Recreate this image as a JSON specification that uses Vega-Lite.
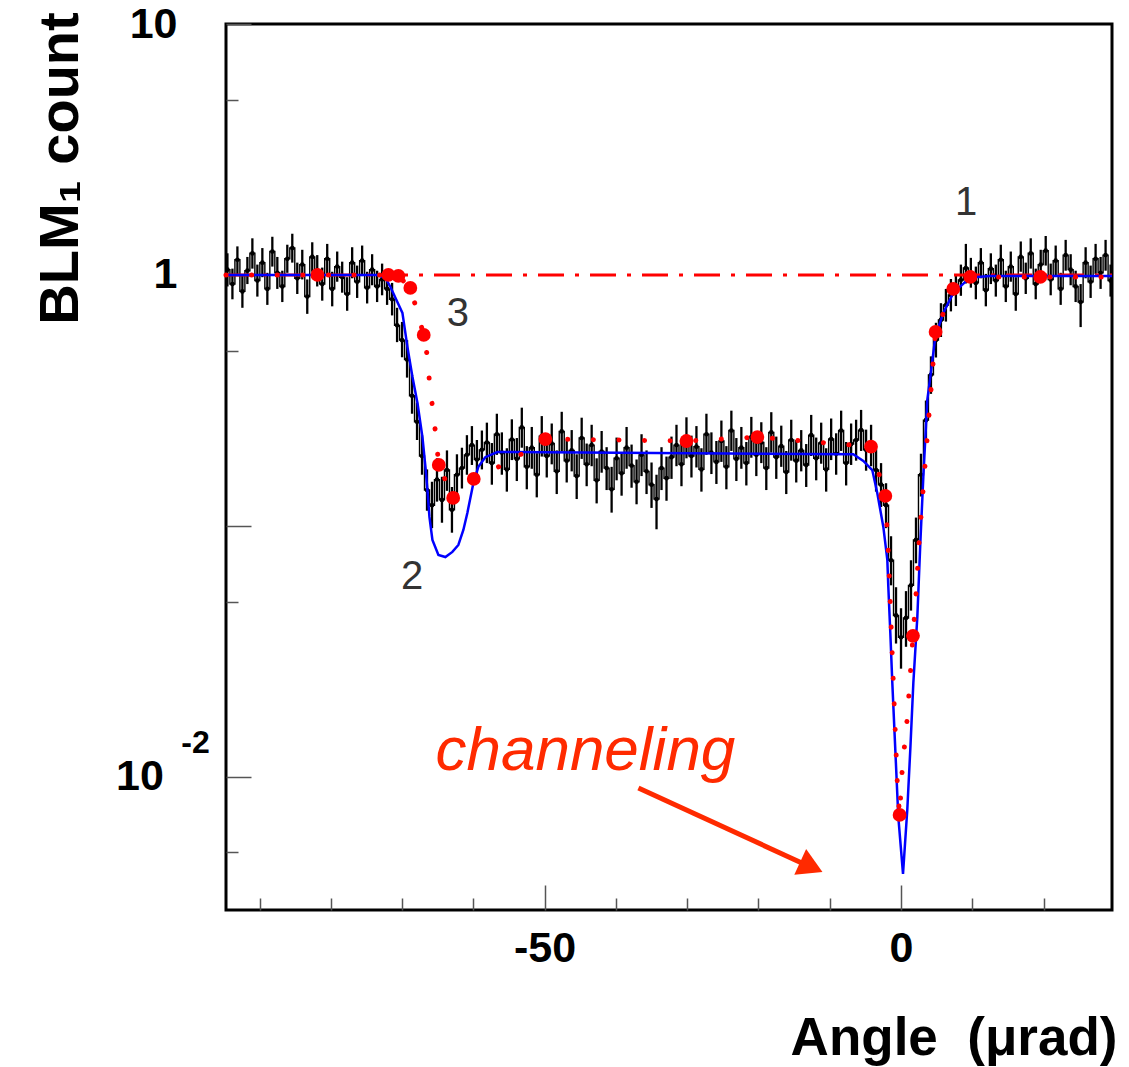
{
  "$schema": "https://vega.github.io/schema/vega-lite/v6.json",
  "width": 886,
  "height": 886,
  "autosize": "none",
  "padding": {"left": 226, "top": 24, "right": 17, "bottom": 157},
  "background": "white",
  "config": {"view": {"stroke": "black", "strokeWidth": 3}, "font": "Liberation Sans"},
  "datasets": {
    "black": [
      {"x":-94.5,"y":1.05,"lo":0.90,"hi":1.22},{"x":-93.8,"y":0.92,"lo":0.80,"hi":1.06},{"x":-93.1,"y":1.15,"lo":1.00,"hi":1.30},{"x":-92.4,"y":0.86,"lo":0.74,"hi":1.00},
      {"x":-91.7,"y":1.04,"lo":0.92,"hi":1.18},{"x":-91.0,"y":1.22,"lo":1.06,"hi":1.40},{"x":-90.3,"y":0.95,"lo":0.82,"hi":1.10},{"x":-89.6,"y":1.12,"lo":0.98,"hi":1.28},
      {"x":-88.9,"y":0.88,"lo":0.76,"hi":1.02},{"x":-88.2,"y":1.24,"lo":1.08,"hi":1.42},{"x":-87.5,"y":1.02,"lo":0.88,"hi":1.18},{"x":-86.8,"y":0.90,"lo":0.78,"hi":1.04},
      {"x":-86.1,"y":1.16,"lo":1.02,"hi":1.32},{"x":-85.4,"y":1.28,"lo":1.12,"hi":1.46},{"x":-84.7,"y":0.97,"lo":0.84,"hi":1.12},{"x":-84.0,"y":1.10,"lo":0.96,"hi":1.26},
      {"x":-83.3,"y":0.82,"lo":0.70,"hi":0.96},{"x":-82.6,"y":1.18,"lo":1.03,"hi":1.35},{"x":-81.9,"y":1.04,"lo":0.90,"hi":1.20},{"x":-81.2,"y":0.92,"lo":0.79,"hi":1.07},
      {"x":-80.5,"y":1.16,"lo":1.01,"hi":1.33},{"x":-79.8,"y":0.88,"lo":0.75,"hi":1.03},{"x":-79.1,"y":1.08,"lo":0.94,"hi":1.24},{"x":-78.4,"y":0.98,"lo":0.85,"hi":1.13},
      {"x":-77.7,"y":0.84,"lo":0.72,"hi":0.98},{"x":-77.0,"y":1.12,"lo":0.97,"hi":1.29},{"x":-76.3,"y":0.94,"lo":0.81,"hi":1.09},{"x":-75.6,"y":1.14,"lo":0.99,"hi":1.31},
      {"x":-74.9,"y":0.89,"lo":0.77,"hi":1.03},{"x":-74.2,"y":1.05,"lo":0.91,"hi":1.21},{"x":-73.5,"y":0.90,"lo":0.78,"hi":1.04},{"x":-72.8,"y":0.96,"lo":0.83,"hi":1.11},
      {"x":-72.1,"y":0.88,"lo":0.76,"hi":1.02},{"x":-71.4,"y":0.80,"lo":0.69,"hi":0.93},{"x":-70.7,"y":0.63,"lo":0.54,"hi":0.74},{"x":-70.0,"y":0.55,"lo":0.47,"hi":0.65},
      {"x":-69.3,"y":0.46,"lo":0.39,"hi":0.55},{"x":-68.6,"y":0.33,"lo":0.28,"hi":0.40},{"x":-67.9,"y":0.26,"lo":0.22,"hi":0.31},{"x":-67.2,"y":0.19,"lo":0.16,"hi":0.23},
      {"x":-66.5,"y":0.139,"lo":0.115,"hi":0.168},{"x":-65.8,"y":0.121,"lo":0.098,"hi":0.150},{"x":-65.1,"y":0.153,"lo":0.125,"hi":0.186},{"x":-64.4,"y":0.127,"lo":0.103,"hi":0.157},
      {"x":-63.7,"y":0.167,"lo":0.138,"hi":0.200},{"x":-63.0,"y":0.116,"lo":0.094,"hi":0.143},{"x":-62.3,"y":0.160,"lo":0.132,"hi":0.193},{"x":-61.6,"y":0.170,"lo":0.141,"hi":0.205},
      {"x":-60.9,"y":0.192,"lo":0.160,"hi":0.230},{"x":-60.2,"y":0.210,"lo":0.175,"hi":0.250},{"x":-59.5,"y":0.184,"lo":0.153,"hi":0.220},{"x":-58.8,"y":0.201,"lo":0.168,"hi":0.240},
      {"x":-58.1,"y":0.215,"lo":0.178,"hi":0.258},{"x":-57.4,"y":0.178,"lo":0.146,"hi":0.214},{"x":-56.7,"y":0.232,"lo":0.192,"hi":0.280},{"x":-56.0,"y":0.196,"lo":0.160,"hi":0.236},
      {"x":-55.3,"y":0.168,"lo":0.137,"hi":0.204},{"x":-54.6,"y":0.221,"lo":0.183,"hi":0.266},{"x":-53.9,"y":0.185,"lo":0.151,"hi":0.224},{"x":-53.2,"y":0.247,"lo":0.205,"hi":0.296},
      {"x":-52.5,"y":0.172,"lo":0.140,"hi":0.208},{"x":-51.8,"y":0.205,"lo":0.169,"hi":0.248},{"x":-51.1,"y":0.160,"lo":0.130,"hi":0.195},{"x":-50.4,"y":0.228,"lo":0.189,"hi":0.274},
      {"x":-49.7,"y":0.190,"lo":0.156,"hi":0.229},{"x":-49.0,"y":0.213,"lo":0.176,"hi":0.256},{"x":-48.3,"y":0.165,"lo":0.134,"hi":0.200},{"x":-47.6,"y":0.238,"lo":0.198,"hi":0.285},
      {"x":-46.9,"y":0.182,"lo":0.149,"hi":0.220},{"x":-46.2,"y":0.200,"lo":0.165,"hi":0.241},{"x":-45.5,"y":0.158,"lo":0.128,"hi":0.193},{"x":-44.8,"y":0.224,"lo":0.185,"hi":0.270},
      {"x":-44.1,"y":0.176,"lo":0.144,"hi":0.213},{"x":-43.4,"y":0.210,"lo":0.173,"hi":0.253},{"x":-42.7,"y":0.152,"lo":0.123,"hi":0.186},{"x":-42.0,"y":0.198,"lo":0.163,"hi":0.239},
      {"x":-41.3,"y":0.170,"lo":0.139,"hi":0.206},{"x":-40.6,"y":0.140,"lo":0.113,"hi":0.172},{"x":-39.9,"y":0.186,"lo":0.152,"hi":0.225},{"x":-39.2,"y":0.162,"lo":0.132,"hi":0.197},
      {"x":-38.5,"y":0.205,"lo":0.169,"hi":0.248},{"x":-37.8,"y":0.174,"lo":0.142,"hi":0.211},{"x":-37.1,"y":0.150,"lo":0.122,"hi":0.184},{"x":-36.4,"y":0.192,"lo":0.158,"hi":0.232},
      {"x":-35.7,"y":0.165,"lo":0.134,"hi":0.200},{"x":-35.0,"y":0.146,"lo":0.118,"hi":0.179},{"x":-34.3,"y":0.128,"lo":0.097,"hi":0.160},{"x":-33.6,"y":0.170,"lo":0.139,"hi":0.206},
      {"x":-32.9,"y":0.155,"lo":0.126,"hi":0.189},{"x":-32.2,"y":0.188,"lo":0.154,"hi":0.227},{"x":-31.5,"y":0.210,"lo":0.173,"hi":0.253},{"x":-30.8,"y":0.176,"lo":0.144,"hi":0.213},
      {"x":-30.1,"y":0.225,"lo":0.186,"hi":0.271},{"x":-29.4,"y":0.190,"lo":0.156,"hi":0.229},{"x":-28.7,"y":0.207,"lo":0.171,"hi":0.250},{"x":-28.0,"y":0.168,"lo":0.137,"hi":0.204},
      {"x":-27.3,"y":0.232,"lo":0.192,"hi":0.280},{"x":-26.6,"y":0.196,"lo":0.161,"hi":0.236},{"x":-25.9,"y":0.180,"lo":0.147,"hi":0.218},{"x":-25.2,"y":0.218,"lo":0.180,"hi":0.263},
      {"x":-24.5,"y":0.172,"lo":0.140,"hi":0.208},{"x":-23.8,"y":0.240,"lo":0.199,"hi":0.288},{"x":-23.1,"y":0.185,"lo":0.151,"hi":0.224},{"x":-22.4,"y":0.205,"lo":0.169,"hi":0.248},
      {"x":-21.7,"y":0.178,"lo":0.145,"hi":0.216},{"x":-21.0,"y":0.226,"lo":0.187,"hi":0.272},{"x":-20.3,"y":0.192,"lo":0.158,"hi":0.232},{"x":-19.6,"y":0.215,"lo":0.178,"hi":0.259},
      {"x":-18.9,"y":0.170,"lo":0.139,"hi":0.206},{"x":-18.2,"y":0.236,"lo":0.196,"hi":0.284},{"x":-17.5,"y":0.188,"lo":0.154,"hi":0.227},{"x":-16.8,"y":0.208,"lo":0.172,"hi":0.251},
      {"x":-16.1,"y":0.164,"lo":0.134,"hi":0.199},{"x":-15.4,"y":0.220,"lo":0.182,"hi":0.265},{"x":-14.7,"y":0.182,"lo":0.149,"hi":0.220},{"x":-14.0,"y":0.200,"lo":0.165,"hi":0.241},
      {"x":-13.3,"y":0.175,"lo":0.143,"hi":0.212},{"x":-12.6,"y":0.230,"lo":0.190,"hi":0.277},{"x":-11.9,"y":0.186,"lo":0.152,"hi":0.225},{"x":-11.2,"y":0.214,"lo":0.177,"hi":0.258},
      {"x":-10.5,"y":0.168,"lo":0.137,"hi":0.204},{"x":-9.8,"y":0.222,"lo":0.183,"hi":0.268},{"x":-9.1,"y":0.194,"lo":0.160,"hi":0.234},{"x":-8.4,"y":0.240,"lo":0.199,"hi":0.288},
      {"x":-7.7,"y":0.178,"lo":0.145,"hi":0.216},{"x":-7.0,"y":0.212,"lo":0.175,"hi":0.256},
      {"x":-6.3,"y":0.220,"lo":0.182,"hi":0.265},{"x":-5.6,"y":0.241,"lo":0.199,"hi":0.290},{"x":-4.9,"y":0.201,"lo":0.166,"hi":0.242},{"x":-4.2,"y":0.210,"lo":0.173,"hi":0.253},
      {"x":-3.5,"y":0.167,"lo":0.137,"hi":0.202},{"x":-2.8,"y":0.146,"lo":0.119,"hi":0.178},{"x":-2.1,"y":0.121,"lo":0.098,"hi":0.148},{"x":-1.4,"y":0.073,"lo":0.058,"hi":0.091},
      {"x":-0.7,"y":0.044,"lo":0.034,"hi":0.057},{"x":0.0,"y":0.036,"lo":0.027,"hi":0.047},{"x":0.7,"y":0.043,"lo":0.033,"hi":0.055},{"x":1.4,"y":0.058,"lo":0.046,"hi":0.073},
      {"x":2.1,"y":0.088,"lo":0.071,"hi":0.108},{"x":2.8,"y":0.160,"lo":0.131,"hi":0.194},{"x":3.5,"y":0.264,"lo":0.219,"hi":0.316},{"x":4.2,"y":0.400,"lo":0.336,"hi":0.474},
      {"x":4.9,"y":0.551,"lo":0.469,"hi":0.645},{"x":5.6,"y":0.662,"lo":0.566,"hi":0.772},{"x":6.3,"y":0.759,"lo":0.652,"hi":0.880},{"x":7.0,"y":0.832,"lo":0.716,"hi":0.964},
      {"x":7.7,"y":0.871,"lo":0.752,"hi":1.008},{"x":8.4,"y":0.955,"lo":0.826,"hi":1.100},{"x":9.1,"y":1.066,"lo":0.925,"hi":1.33},
      {"x":9.8,"y":1.02,"lo":0.89,"hi":1.17},{"x":10.5,"y":0.93,"lo":0.80,"hi":1.08},{"x":11.2,"y":1.12,"lo":0.97,"hi":1.28},{"x":11.9,"y":0.87,"lo":0.75,"hi":1.01},
      {"x":12.6,"y":1.06,"lo":0.92,"hi":1.22},{"x":13.3,"y":0.95,"lo":0.82,"hi":1.10},{"x":14.0,"y":1.15,"lo":1.00,"hi":1.32},{"x":14.7,"y":0.90,"lo":0.78,"hi":1.04},
      {"x":15.4,"y":1.08,"lo":0.94,"hi":1.24},{"x":16.1,"y":0.84,"lo":0.72,"hi":0.98},{"x":16.8,"y":1.18,"lo":1.03,"hi":1.36},{"x":17.5,"y":0.97,"lo":0.84,"hi":1.12},
      {"x":18.2,"y":1.22,"lo":1.06,"hi":1.40},{"x":18.9,"y":0.92,"lo":0.80,"hi":1.06},{"x":19.6,"y":1.10,"lo":0.96,"hi":1.26},{"x":20.3,"y":1.25,"lo":1.09,"hi":1.43},
      {"x":21.0,"y":0.96,"lo":0.83,"hi":1.11},{"x":21.7,"y":1.14,"lo":0.99,"hi":1.31},{"x":22.4,"y":0.88,"lo":0.76,"hi":1.02},{"x":23.1,"y":1.20,"lo":1.04,"hi":1.38},
      {"x":23.8,"y":1.05,"lo":0.91,"hi":1.21},{"x":24.5,"y":0.90,"lo":0.78,"hi":1.04},{"x":25.2,"y":0.78,"lo":0.62,"hi":0.92},{"x":25.9,"y":1.12,"lo":0.97,"hi":1.29},
      {"x":26.6,"y":0.94,"lo":0.81,"hi":1.09},{"x":27.3,"y":1.16,"lo":1.01,"hi":1.33},{"x":28.0,"y":1.02,"lo":0.88,"hi":1.18},{"x":28.7,"y":1.20,"lo":1.04,"hi":1.38},
      {"x":29.4,"y":0.95,"lo":0.82,"hi":1.10}
    ],
    "blue": [
      {"x":-94.7,"y":1.0},{"x":-73.45,"y":1.0},{"x":-72.33,"y":0.973},{"x":-71.63,"y":0.896},{"x":-70.79,"y":0.795},{"x":-69.95,"y":0.706},
      {"x":-69.25,"y":0.517},{"x":-68.54,"y":0.392},{"x":-67.84,"y":0.309},{"x":-67.14,"y":0.226},{"x":-66.72,"y":0.172},{"x":-66.44,"y":0.139},
      {"x":-66.16,"y":0.1086},{"x":-65.74,"y":0.0879},{"x":-64.9,"y":0.0766},{"x":-63.92,"y":0.0752},{"x":-62.94,"y":0.0788},{"x":-62.1,"y":0.084},
      {"x":-61.4,"y":0.0964},{"x":-60.84,"y":0.1127},{"x":-60.0,"y":0.148},{"x":-59.3,"y":0.172},{"x":-58.32,"y":0.188},{"x":-56.64,"y":0.197},
      {"x":-54.8,"y":0.197},{"x":-6.7,"y":0.193},{"x":-5.29,"y":0.1815},{"x":-4.03,"y":0.167},{"x":-3.33,"y":0.1353},{"x":-2.48,"y":0.0991},
      {"x":-1.92,"y":0.0732},{"x":-1.78,"y":0.0571},{"x":-1.5,"y":0.0375},{"x":-1.22,"y":0.0237},{"x":-0.8,"y":0.01282},{"x":-0.38,"y":0.00693},
      {"x":0.28,"y":0.00411},{"x":0.88,"y":0.0074},{"x":1.3,"y":0.01282},{"x":1.73,"y":0.0237},{"x":2.29,"y":0.0434},{"x":2.71,"y":0.0855},
      {"x":3.13,"y":0.1567},{"x":3.69,"y":0.3177},{"x":4.11,"y":0.392},{"x":4.81,"y":0.566},{"x":5.93,"y":0.706},{"x":7.33,"y":0.848},
      {"x":9.29,"y":0.955},{"x":10.7,"y":0.982},{"x":12.5,"y":0.991},{"x":29.6,"y":0.991}
    ],
    "model": [
      {"x":-94.7,"y":1.0},{"x":-81.87,"y":1.0},{"x":-71.92,"y":1.0},{"x":-70.52,"y":0.991},{"x":-68.84,"y":0.888},{"x":-68.14,"y":0.759},
      {"x":-66.96,"y":0.577},{"x":-66.44,"y":0.471},{"x":-66.16,"y":0.375},{"x":-65.74,"y":0.298},{"x":-65.32,"y":0.237},{"x":-64.85,"y":0.175},
      {"x":-62.83,"y":0.1293},{"x":-59.94,"y":0.154},{"x":-56.2,"y":0.1734},{"x":-52.97,"y":0.1954},{"x":-49.89,"y":0.222},{"x":-30.11,"y":0.218},
      {"x":-20.15,"y":0.226},{"x":-4.21,"y":0.207},{"x":-2.2,"y":0.1317},{"x":-1.78,"y":0.078},{"x":-1.5,"y":0.0484},{"x":-1.22,"y":0.0301},
      {"x":-0.8,"y":0.01497},{"x":-0.52,"y":0.00946},{"x":-0.2,"y":0.00706},{"x":0.18,"y":0.01085},{"x":0.88,"y":0.01718},{"x":1.68,"y":0.0365},
      {"x":2.15,"y":0.0556},{"x":2.57,"y":0.0896},{"x":3.13,"y":0.143},{"x":3.69,"y":0.2284},{"x":4.85,"y":0.593},{"x":7.33,"y":0.88},
      {"x":9.72,"y":0.982},{"x":19.54,"y":0.982},{"x":29.6,"y":0.982}
    ],
    "measured": [
      {"x":-81.87,"y":1.0},{"x":-71.92,"y":1.0},{"x":-70.52,"y":0.991},{"x":-68.84,"y":0.888},{"x":-66.96,"y":0.577},{"x":-64.85,"y":0.175},
      {"x":-62.83,"y":0.1293},{"x":-59.94,"y":0.154},{"x":-49.89,"y":0.222},{"x":-30.11,"y":0.218},{"x":-20.15,"y":0.226},{"x":-4.21,"y":0.207},
      {"x":-2.2,"y":0.1317},{"x":-0.2,"y":0.00706},{"x":1.68,"y":0.0365},{"x":4.85,"y":0.593},{"x":7.33,"y":0.88},{"x":9.72,"y":0.982},{"x":19.54,"y":0.982}
    ],
    "unity": [{"x":-94.7,"y":1.0},{"x":29.6,"y":1.0}],
    "labels": [{"x":9.12,"y":1.936,"t":"1"},{"x":-68.58,"y":0.0626,"t":"2"},{"x":-62.16,"y":0.699,"t":"3"}],
    "note": [{"x":-44.28,"y":0.01066,"t":"channeling"}],
    "arrow": [{"x":-36.84,"y":0.009042,"x2":-13.0,"y2":0.004419}],
    "head": [{"x":-12.58,"y":0.004378}],
    "tick10": [{"x":-106.76,"y":0.01,"t":"10"}],
    "tickexp": [{"x":-98.98,"y":0.01366,"t":"-2"}]
  },
  "layer": [
    {
      "data": {"name": "black"},
      "mark": {"type": "rule", "color": "black", "strokeWidth": 2.3},
      "encoding": {
        "x": {"field": "x", "type": "quantitative", "scale": {"domain": [-94.7, 29.6], "nice": false, "zero": false},
          "axis": {"orient": "bottom", "values": [-50, 0], "domain": false, "grid": false, "tickSize": -25, "tickColor": "#555", "tickWidth": 1.5,
            "labelExpr": "datum.value == 0 ? '0' : '-50'",
            "labelFontSize": 43, "labelFontWeight": "bold", "labelColor": "black", "labelPadding": 42, "labelBaseline": "top", "labelFlush": false, "labelOverlap": false,
            "title": "Angle\u00a0\u00a0(μrad)", "titleFontSize": 53, "titleFontWeight": "bold", "titleColor": "black", "titleX": 891, "titleY": 144, "titleAlign": "right", "titleBaseline": "alphabetic"}},
        "y": {"field": "lo", "type": "quantitative", "scale": {"type": "log", "domain": [0.00295, 10], "nice": false},
          "axis": {"orient": "left", "values": [0.01, 0.1, 1, 10], "domain": false, "grid": false, "tickSize": -25, "tickColor": "#555", "tickWidth": 1.5,
            "labelExpr": "datum.value == 10 ? '10' : (datum.value == 1 ? '1' : '')",
            "labelFontSize": 43, "labelFontWeight": "bold", "labelColor": "black", "labelPadding": 74, "labelBaseline": "middle", "labelFlush": false, "labelOverlap": false,
            "title": "BLM₁ count", "titleFontSize": 56, "titleFontWeight": "bold", "titleColor": "black", "titleAngle": -90, "titleX": -149, "titleY": 144, "titleAlign": "center", "titleBaseline": "alphabetic"}},
        "y2": {"field": "hi"}
      }
    },
    {
      "data": {"name": "black"},
      "mark": {"type": "line", "color": "black", "strokeWidth": 1.4, "interpolate": "step"},
      "encoding": {
        "x": {"field": "x", "type": "quantitative", "scale": {"domain": [-94.7, 29.6], "nice": false, "zero": false}, "axis": null},
        "y": {"field": "y", "type": "quantitative", "scale": {"type": "log", "domain": [0.00295, 10], "nice": false}, "axis": null}
      }
    },
    {
      "data": {"name": "black"},
      "mark": {"type": "point", "filled": true, "color": "black", "size": 22, "opacity": 1, "shape": "circle"},
      "encoding": {
        "x": {"field": "x", "type": "quantitative", "scale": {"domain": [-94.7, 29.6], "nice": false, "zero": false}, "axis": null},
        "y": {"field": "y", "type": "quantitative", "scale": {"type": "log", "domain": [0.00295, 10], "nice": false}, "axis": null}
      }
    },
    {
      "data": {"name": "unity"},
      "mark": {"type": "line", "color": "#ff0000", "strokeWidth": 3, "strokeDash": [26, 11, 4, 11]},
      "encoding": {
        "x": {"field": "x", "type": "quantitative", "scale": {"domain": [-94.7, 29.6], "nice": false, "zero": false},
          "axis": {"orient": "bottom", "values": [-90, -80, -70, -60, -40, -30, -20, -10, 10, 20], "domain": false, "grid": false, "labels": false, "tickSize": -12, "tickColor": "#555", "tickWidth": 1.5, "title": null}},
        "y": {"field": "y", "type": "quantitative", "scale": {"type": "log", "domain": [0.00295, 10], "nice": false},
          "axis": {"orient": "left", "values": [0.005, 0.05, 0.5, 5], "domain": false, "grid": false, "labels": false, "tickSize": -12, "tickColor": "#555", "tickWidth": 1.5, "title": null}}
      }
    },
    {
      "data": {"name": "blue"},
      "mark": {"type": "line", "color": "#0000ff", "strokeWidth": 2.5},
      "encoding": {
        "x": {"field": "x", "type": "quantitative", "scale": {"domain": [-94.7, 29.6], "nice": false, "zero": false}, "axis": null},
        "y": {"field": "y", "type": "quantitative", "scale": {"type": "log", "domain": [0.00295, 10], "nice": false}, "axis": null}
      }
    },
    {
      "data": {"name": "model"},
      "mark": {"type": "line", "color": "#ff0000", "strokeWidth": 5, "strokeDash": [0.1, 25.5], "strokeCap": "round"},
      "encoding": {
        "x": {"field": "x", "type": "quantitative", "scale": {"domain": [-94.7, 29.6], "nice": false, "zero": false}, "axis": null},
        "y": {"field": "y", "type": "quantitative", "scale": {"type": "log", "domain": [0.00295, 10], "nice": false}, "axis": null}
      }
    },
    {
      "data": {"name": "measured"},
      "mark": {"type": "point", "filled": true, "color": "#ff0000", "size": 190, "opacity": 1, "shape": "circle"},
      "encoding": {
        "x": {"field": "x", "type": "quantitative", "scale": {"domain": [-94.7, 29.6], "nice": false, "zero": false}, "axis": null},
        "y": {"field": "y", "type": "quantitative", "scale": {"type": "log", "domain": [0.00295, 10], "nice": false}, "axis": null}
      }
    },
    {
      "data": {"name": "labels"},
      "mark": {"type": "text", "fontSize": 40, "color": "#333333", "align": "center", "baseline": "middle"},
      "encoding": {
        "x": {"field": "x", "type": "quantitative", "scale": {"domain": [-94.7, 29.6], "nice": false, "zero": false}, "axis": null},
        "y": {"field": "y", "type": "quantitative", "scale": {"type": "log", "domain": [0.00295, 10], "nice": false}, "axis": null},
        "text": {"field": "t"}
      }
    },
    {
      "data": {"name": "note"},
      "mark": {"type": "text", "fontSize": 62, "fontStyle": "italic", "color": "#ff2a00", "align": "center", "baseline": "alphabetic"},
      "encoding": {
        "x": {"field": "x", "type": "quantitative", "scale": {"domain": [-94.7, 29.6], "nice": false, "zero": false}, "axis": null},
        "y": {"field": "y", "type": "quantitative", "scale": {"type": "log", "domain": [0.00295, 10], "nice": false}, "axis": null},
        "text": {"field": "t"}
      }
    },
    {
      "data": {"name": "arrow"},
      "mark": {"type": "rule", "color": "#ff2a00", "strokeWidth": 5},
      "encoding": {
        "x": {"field": "x", "type": "quantitative", "scale": {"domain": [-94.7, 29.6], "nice": false, "zero": false}, "axis": null},
        "y": {"field": "y", "type": "quantitative", "scale": {"type": "log", "domain": [0.00295, 10], "nice": false}, "axis": null},
        "x2": {"field": "x2"},
        "y2": {"field": "y2"}
      }
    },
    {
      "data": {"name": "head"},
      "mark": {"type": "point", "shape": "triangle-right", "filled": true, "color": "#ff2a00", "size": 800, "angle": 24.7, "opacity": 1},
      "encoding": {
        "x": {"field": "x", "type": "quantitative", "scale": {"domain": [-94.7, 29.6], "nice": false, "zero": false}, "axis": null},
        "y": {"field": "y", "type": "quantitative", "scale": {"type": "log", "domain": [0.00295, 10], "nice": false}, "axis": null}
      }
    },
    {
      "data": {"name": "tick10"},
      "mark": {"type": "text", "fontSize": 43, "fontWeight": "bold", "color": "black", "align": "center", "baseline": "middle"},
      "encoding": {
        "x": {"field": "x", "type": "quantitative", "scale": {"domain": [-94.7, 29.6], "nice": false, "zero": false}, "axis": null},
        "y": {"field": "y", "type": "quantitative", "scale": {"type": "log", "domain": [0.00295, 10], "nice": false}, "axis": null},
        "text": {"field": "t"}
      }
    },
    {
      "data": {"name": "tickexp"},
      "mark": {"type": "text", "fontSize": 32, "fontWeight": "bold", "color": "black", "align": "center", "baseline": "middle"},
      "encoding": {
        "x": {"field": "x", "type": "quantitative", "scale": {"domain": [-94.7, 29.6], "nice": false, "zero": false}, "axis": null},
        "y": {"field": "y", "type": "quantitative", "scale": {"type": "log", "domain": [0.00295, 10], "nice": false}, "axis": null},
        "text": {"field": "t"}
      }
    }
  ],
  "resolve": {"axis": {"x": "independent", "y": "independent"}}
}
